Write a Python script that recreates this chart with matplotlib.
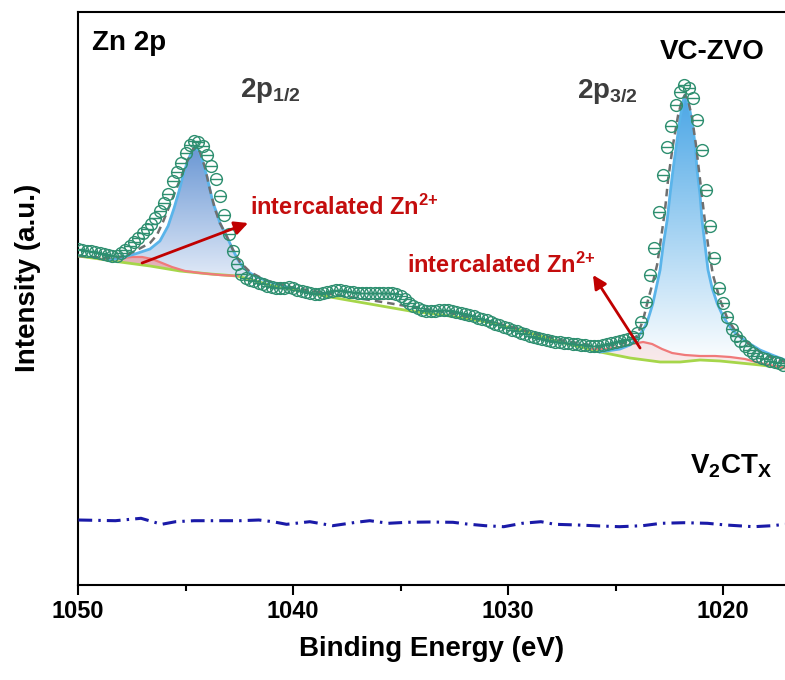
import numpy as np
import matplotlib
matplotlib.use("Agg")
import matplotlib.pyplot as plt
from matplotlib.path import Path
from matplotlib.patches import Polygon
from matplotlib.colors import LinearSegmentedColormap

plt.rcParams['font.family'] = ['Liberation Sans', 'DejaVu Sans']
plt.rcParams['font.weight'] = 'bold'
plt.rcParams['mathtext.fontset'] = 'custom'
plt.rcParams['mathtext.rm'] = 'Liberation Sans:bold'
plt.rcParams['mathtext.bf'] = 'Liberation Sans:bold'
plt.rcParams['mathtext.it'] = 'Liberation Sans:bold'

# ---------------- data ----------------
# measured VC-ZVO spectrum, 0.2 eV steps from 1050.0 eV downwards
I_data = [336, 335, 334, 334, 333, 332, 331, 330, 329, 329,
          332, 335, 339, 343, 347, 352, 356, 361, 367, 374,
          382, 391, 404, 413, 422, 432, 440, 444, 443, 439,
          430, 419, 406, 389, 370, 351, 334, 321, 311, 307,
          305, 304, 302, 301, 299, 298, 297, 297, 297, 298,
          297, 295, 294, 293, 292, 291, 291, 292, 293, 294,
          295, 295, 294, 293, 293, 292, 292, 292, 292, 292,
          292, 292, 292, 292, 291, 289, 286, 282, 279, 277,
          275, 274, 274, 274, 275, 275, 275, 274, 273, 272,
          271, 270, 269, 267, 266, 265, 263, 261, 260, 258,
          257, 255, 254, 252, 251, 249, 248, 247, 246, 245,
          244, 243, 243, 242, 242, 241, 241, 240, 240, 239,
          239, 239, 240, 241, 242, 243, 244, 245, 246, 248,
          252, 263, 283, 310, 337, 373, 410, 438, 459, 480,
          493, 500, 497, 487, 465, 435, 395, 359, 327, 297,
          282, 268, 256, 249, 244, 239, 235, 232, 229, 227,
          226, 224, 223, 222, 220]
E_data = np.round(1050.0 - 0.2 * np.arange(len(I_data)), 1)

# background (green)
E_bg = [1050.00, 1048.98, 1048.05, 1046.65, 1045.26, 1043.86, 1042.60, 1041.07,
        1039.67, 1038.28, 1036.42, 1034.56, 1032.70, 1030.98, 1029.44, 1027.58,
        1025.72, 1024.33, 1022.93, 1022.00, 1021.07, 1020.14, 1019.21, 1018.28, 1017.12]
I_bg = [329, 326, 323, 319, 314, 311, 309, 300,
        294, 288, 281, 274, 269, 263, 255, 243,
        233, 227, 223, 223, 225, 224, 222, 220, 217]

# intercalated Zn2+ component near 2p1/2 (red)
E_red1 = [1048.98, 1048.42, 1047.95, 1047.49, 1047.02, 1046.56, 1046.09, 1045.63,
          1045.02, 1044.33, 1043.40, 1042.60]
I_red1 = [326, 326, 327, 328, 328, 326, 322, 318, 314, 312, 310, 309]

# intercalated Zn2+ component near 2p3/2 (red)
E_red2 = [1026.19, 1025.49, 1024.79, 1024.23, 1023.72, 1023.30, 1022.84, 1022.37,
          1021.77, 1021.07, 1020.37, 1019.67, 1018.98, 1018.28, 1017.58, 1017.12]
I_red2 = [236, 236, 238, 241, 243, 241, 236, 232, 230, 229, 229, 228, 226, 222, 219, 217]

# Zn 2p1/2 component (blue)
E_b1 = [1048.51, 1048.05, 1047.35, 1046.65, 1046.19, 1045.81, 1045.53, 1045.30,
        1045.12, 1044.93, 1044.74, 1044.56, 1044.37, 1044.19, 1044.00, 1043.86,
        1043.72, 1043.53, 1043.40, 1043.07, 1042.79, 1042.56, 1042.33, 1042.00,
        1041.67, 1041.21, 1040.74, 1040.14]
I_b1 = [325, 327, 331, 336, 344, 359, 377, 394,
        409, 422, 432, 438, 434, 422, 408, 395,
        382, 371, 362, 348, 335, 325, 318, 312,
        308, 304, 301, 297]

# Zn 2p3/2 component (blue)
E_b2 = [1025.72, 1024.79, 1024.33, 1023.95, 1023.72, 1023.53, 1023.40, 1023.26,
        1023.12, 1022.93, 1022.79, 1022.60, 1022.47, 1022.33, 1022.14, 1022.00,
        1021.86, 1021.77, 1021.67, 1021.53, 1021.40, 1021.30, 1021.21, 1021.07,
        1020.98, 1020.84, 1020.70, 1020.51, 1020.28, 1020.05, 1019.81, 1019.53,
        1019.21, 1018.74, 1018.28, 1017.72, 1017.12]
I_b2 = [233, 236, 240, 248, 255, 263, 272, 282,
        296, 315, 339, 365, 390, 415, 445, 467,
        484, 490, 486, 473, 457, 440, 415, 390,
        365, 340, 315, 297, 282, 271, 262, 254,
        248, 241, 235, 230, 225]

# fitted envelope (grey dashed)
E_env = [1050.00, 1048.51, 1047.81, 1047.26, 1046.65, 1046.33, 1046.05, 1045.86,
         1045.58, 1045.26, 1044.93, 1044.65, 1044.51, 1044.33, 1044.09, 1043.86,
         1043.63, 1043.40, 1043.07, 1042.79, 1042.47, 1042.00, 1041.30, 1040.14,
         1038.28, 1036.42, 1035.02, 1032.70, 1030.37, 1027.58, 1025.72, 1024.56,
         1024.00, 1023.72, 1023.49, 1023.26, 1023.07, 1022.93, 1022.70, 1022.56,
         1022.33, 1022.09, 1021.91, 1021.77, 1021.63, 1021.44, 1021.26, 1021.07,
         1020.88, 1020.70, 1020.47, 1020.14, 1019.77, 1019.30, 1018.74, 1018.05, 1017.12]
I_env = [329, 327, 329, 335, 342, 350, 363, 373,
         388, 405, 423, 436, 438, 433, 417, 395,
         376, 362, 348, 335, 323, 313, 305, 298,
         291, 285, 280, 272, 261, 245, 238, 242,
         249, 265, 285, 303, 320, 340, 375, 405,
         440, 470, 485, 490, 485, 467, 440, 405,
         370, 340, 310, 285, 265, 250, 240, 230, 223]

# V2CTx reference spectrum (blue dash-dot)
E_v = [1049.98, 1048.26, 1047.07, 1046.53, 1046.11, 1045.46, 1044.60, 1043.53,
       1042.45, 1041.59, 1040.94, 1040.30, 1039.22, 1038.15, 1037.07, 1036.43,
       1035.57, 1034.71, 1033.63, 1032.56, 1031.92, 1031.06, 1030.20, 1029.34,
       1028.47, 1027.83, 1026.75, 1025.68, 1024.82, 1023.74, 1022.88, 1021.81,
       1020.73, 1019.87, 1018.58, 1017.72, 1017.12]
I_v = [65, 64.3, 66.7, 63.3, 60.7, 63.3, 64.3, 64.3,
       64.3, 65, 63.3, 60.7, 63.3, 59.3, 62.7, 64.3,
       61.7, 62.7, 63, 62.7, 61, 59.3, 58.3, 61.7,
       63.3, 60.7, 60, 59, 58.3, 59.3, 61.7, 62.3,
       61.7, 60, 58.3, 59.3, 60.7]

x_ticks = [1050, 1040, 1030, 1020]
x_minor = [1045, 1035, 1025]

# ---------------- figure ----------------
fig = plt.figure(figsize=(7.85, 6.8), dpi=100)
ax = fig.add_axes([78/785, 95/680, 707/785, 573/680])

E_bg_a = np.array(E_bg)
I_bg_a = np.array(I_bg)


def region_polygon(E_top, I_top):
    E_top = np.array(E_top)
    I_top = np.array(I_top)
    m = (E_bg_a < E_top.max()) & (E_bg_a > E_top.min())
    xs = np.concatenate([E_top, E_bg_a[m][::-1]])
    ys = np.concatenate([I_top, I_bg_a[m][::-1]])
    return xs, ys


def grad_fill(E_top, I_top, c_top, c_bot, z):
    xs, ys = region_polygon(E_top, I_top)
    poly = Polygon(np.column_stack([xs, ys]), closed=True, facecolor='none',
                   edgecolor='none', transform=ax.transData)
    ax.add_patch(poly)
    cmap = LinearSegmentedColormap.from_list('g', [c_bot, c_top])
    im = ax.imshow(np.linspace(0, 1, 256).reshape(-1, 1), cmap=cmap, origin='lower',
                   aspect='auto', interpolation='bilinear',
                   extent=[xs.max(), xs.min(), ys.min(), ys.max()], zorder=z)
    im.set_clip_path(poly)


grad_fill(E_b1, I_b1, '#6a97d4', '#eaf0fa', 1)
grad_fill(E_b2, I_b2, '#4aa6e6', '#ffffff', 1)

# red fills
xs, ys = region_polygon(E_red1, I_red1)
ax.add_patch(Polygon(np.column_stack([xs, ys]), closed=True,
                     facecolor='#f28a8a', edgecolor='none', alpha=0.55, zorder=2))
xs, ys = region_polygon(E_red2, I_red2)
ax.add_patch(Polygon(np.column_stack([xs, ys]), closed=True,
                     facecolor='#f7c4c4', edgecolor='none', alpha=0.35, zorder=2))

ax.plot(E_bg, I_bg, color='#a6d64a', lw=2.0, zorder=3)
ax.plot(E_red1, I_red1, color='#f07a7a', lw=1.6, zorder=3.5)
ax.plot(E_red2, I_red2, color='#f07a7a', lw=1.6, zorder=3.5)
ax.plot(E_b1, I_b1, color='#5ab4ea', lw=2.0, zorder=4)
ax.plot(E_b2, I_b2, color='#5ab4ea', lw=2.0, zorder=4)
ax.plot(E_env, I_env, color='#6f6f6f', lw=1.8, ls=(0, (3, 2)), zorder=4.5)

# data markers: circle with horizontal bar
circ = Path.unit_circle()
mverts = np.concatenate([circ.vertices, [[-1, 0], [1, 0]]])
mcodes = np.concatenate([circ.codes, [Path.MOVETO, Path.LINETO]])
mpath = Path(mverts, mcodes)
ax.plot(E_data, I_data, ls='none', marker=mpath, ms=8.5, mfc='none',
        mec='#2e8f70', mew=1.0, zorder=5)

# V2CTx
ax.plot(E_v, I_v, color='#1a1aa8', lw=2.2, ls=(0, (4.5, 2, 0.8, 2)), zorder=5)

# texts
ax.text(1049.35, 535, 'Zn 2p', fontsize=20, fontweight='bold', color='black',
        ha='left', va='baseline', zorder=6)
ax.text(1022.93, 526, 'VC-ZVO', fontsize=20, fontweight='bold', color='black',
        ha='left', va='baseline', zorder=6)
ax.text(1042.47, 488, r'$\mathbf{2p_{1/2}}$', fontsize=20, color='#3d3d3d',
        ha='left', va='baseline', zorder=6)
ax.text(1026.79, 487, r'$\mathbf{2p_{3/2}}$', fontsize=20, color='#3d3d3d',
        ha='left', va='baseline', zorder=6)
ax.text(1042.0, 370, r'intercalated Zn$^{\mathbf{2{+}}}$', fontsize=17, fontweight='bold',
        color='#c40d0d', ha='left', va='baseline', zorder=6)
ax.text(1034.70, 312, r'intercalated Zn$^{\mathbf{2{+}}}$', fontsize=17, fontweight='bold',
        color='#c40d0d', ha='left', va='baseline', zorder=6)
ax.text(1021.53, 112, r'$\mathbf{V_2CT_X}$', fontsize=20, color='black',
        ha='left', va='baseline', zorder=6)

# arrows
arrow_kw = dict(arrowstyle='-|>', color='#c00000', lw=2, mutation_scale=20,
                shrinkA=0, shrinkB=0)
ax.annotate('', xy=(1042.09, 362), xytext=(1047.02, 322), arrowprops=arrow_kw, zorder=6)
ax.annotate('', xy=(1026.05, 310), xytext=(1023.86, 237), arrowprops=arrow_kw, zorder=6)

# axes
ax.set_xlim(1050, 1017.12)
ax.set_ylim(0, 573)
ax.set_xticks(x_ticks)
ax.set_xticks(x_minor, minor=True)
ax.set_yticks([])
ax.tick_params(axis='x', which='major', direction='out', length=7, width=1.5,
               labelsize=17, pad=4)
ax.tick_params(axis='x', which='minor', direction='out', length=4.5, width=1.5)
for lab in ax.get_xticklabels():
    lab.set_fontweight('bold')
for s in ['left', 'bottom', 'top']:
    ax.spines[s].set_linewidth(1.5)
ax.spines['right'].set_visible(False)

ax.set_xlabel('Binding Energy (eV)', fontsize=20, fontweight='bold', labelpad=9)
ax.set_ylabel('Intensity (a.u.)', fontsize=20, fontweight='bold')
ax.yaxis.set_label_coords(-0.052, 0.536)

fig.savefig('out.png', dpi=100)
